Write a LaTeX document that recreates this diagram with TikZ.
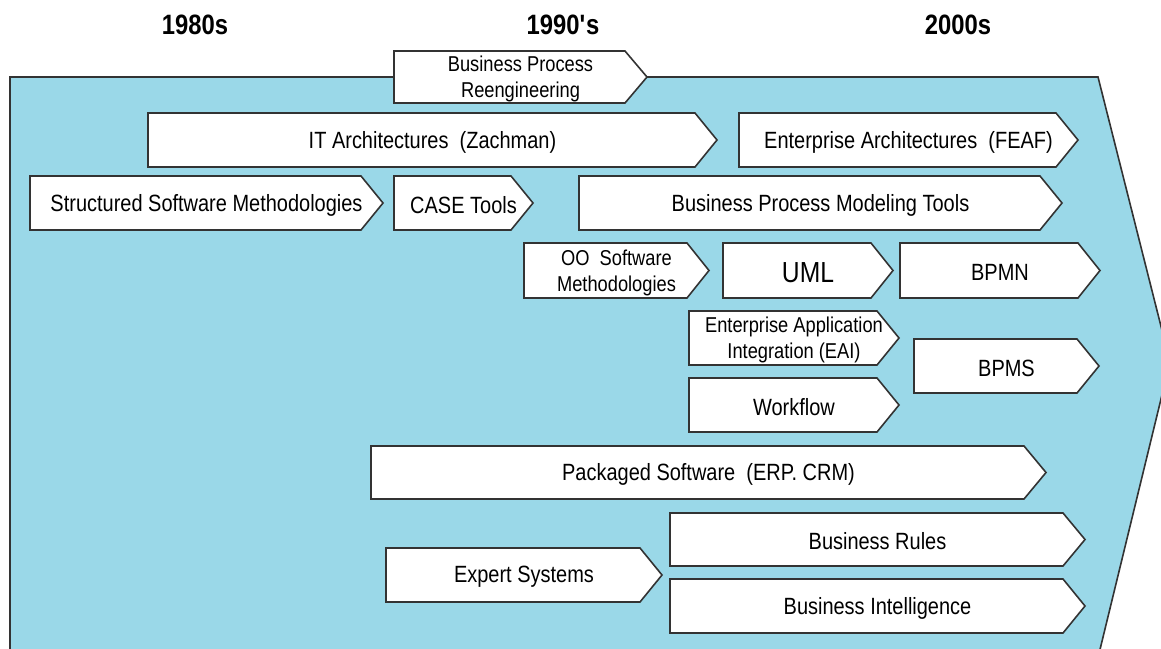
\documentclass[tikz,border=0pt]{standalone}
\usepackage{fontspec}
\setmainfont{Liberation Sans}[FakeStretch=0.85]
\definecolor{sky}{RGB}{154,216,232}

\tikzset{
  tag/.style={draw=black!80, line width=1.6pt, fill=white, line join=miter},
  lbl/.style={font=\fontsize{23.5}{26}\selectfont, align=center, inner sep=0pt, yshift=-2pt},
  small/.style={font=\fontsize{21.5}{26}\selectfont},
  big/.style={font=\fontsize{29}{30}\selectfont},
  era/.style={font=\bfseries\fontsize{28}{30}\selectfont, inner sep=0pt}
}

% [style] name, left, top, tip, bottom, text
\newcommand{\tagbox}[7][]{%
  \draw[tag] (#3,#4) -- ({#5-22},#4) -- (#5,{(#4+#6)/2}) -- ({#5-22},#6) -- (#3,#6) -- cycle;
  \node[lbl,#1] (#2) at ({(#3+#5)/2},{(#4+#6)/2}) {#7};
}

\begin{document}
\begin{tikzpicture}[x=1pt,y=-1pt]
\useasboundingbox (0,0) rectangle (1161,648);

% decades
\node[era] (e80) at (195,25) {1980s};
\node[era] (e90) at (563,25) {1990\textquotesingle s};
\node[era] (e00) at (958,25) {2000s};

% the big arrow behind everything
\fill[sky] (10,670) -- (10,77) -- (1098,77) -- (1170,362) -- (1095,670) -- cycle;
\draw[black!80, line width=1.6pt] (10,670) -- (10,77) -- (1098,77) -- (1170,362) -- (1095,670);

\tagbox[small]{bpr}{394}{51}{647}{103}{Business Process\\Reengineering}
\tagbox{itarch}{148}{113}{717}{167}{IT Architectures\ \ (Zachman)}
\tagbox{feaf}{739}{113}{1078}{167}{Enterprise Architectures\ \ (FEAF)}
\tagbox{ssm}{30}{176}{383}{230}{Structured Software Methodologies}
\tagbox{case}{394}{176}{533}{230}{CASE Tools}
\tagbox{bpmt}{579}{176}{1062}{230}{Business Process Modeling Tools}
\tagbox[small]{oosm}{524}{243}{709}{298}{OO\ \ Software\\Methodologies}
\tagbox[big]{uml}{723}{243}{893}{298}{UML}
\tagbox{bpmn}{900}{243}{1100}{298}{BPMN}
\tagbox[small]{eai}{689}{311}{899}{365}{Enterprise Application\\Integration (EAI)}
\tagbox{wf}{689}{378}{899}{432}{Workflow}
\tagbox{bpms}{914}{339}{1099}{393}{BPMS}
\tagbox{pkg}{371}{446}{1046}{499}{Packaged Software\ \ (ERP. CRM)}
\tagbox{rules}{670}{513}{1085}{566}{Business Rules}
\tagbox{expert}{386}{548}{662}{602}{Expert Systems}
\tagbox{bi}{670}{579}{1085}{633}{Business Intelligence}
\end{tikzpicture}
\end{document}
